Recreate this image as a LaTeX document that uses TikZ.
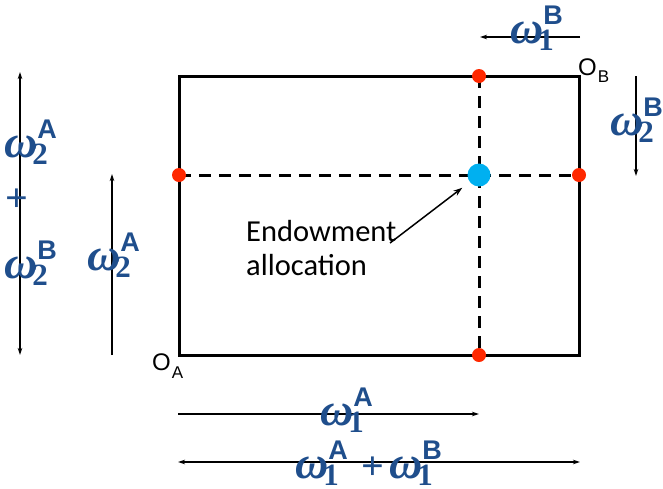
\documentclass[tikz,border=0pt]{standalone}
\usepackage{fontspec}
\usetikzlibrary{arrows.meta}
\newfontfamily\omf{Liberation Serif}
\newfontfamily\arialf{Liberation Sans}
\newfontfamily\calf{Carlito}
\definecolor{omblue}{RGB}{31,78,140}
\definecolor{dotred}{RGB}{255,40,0}
\definecolor{dotblue}{RGB}{0,176,240}
\newcommand\omsym{{\fontsize{46}{46}\selectfont\omf\bfseries\itshape ω}}
\newcommand\om[2]{\omsym\rlap{\raisebox{19pt}{\fontsize{27}{27}\selectfont\arialf\bfseries #1}}\kern-5pt\raisebox{-7pt}{\fontsize{31}{31}\selectfont\omf\bfseries #2}}
\begin{document}
\begin{tikzpicture}[x=1pt,y=-1pt,
  boxline/.style={line width=3pt},
  dashline/.style={line width=3pt,dash pattern=on 12pt off 8pt},
  reddot/.style={circle,fill=dotred,inner sep=0pt,minimum size=14pt},
  bluedot/.style={circle,fill=dotblue,inner sep=0pt,minimum size=23pt},
  arr/.style={line width=1.2pt,-{Stealth[length=7pt,width=4.5pt]}},
  darr/.style={line width=1.2pt,{Stealth[length=7pt,width=4.5pt]}-{Stealth[length=7pt,width=4.5pt]}},
  lab/.style={text=omblue,inner sep=0pt,anchor=base west},
  pluslab/.style={text=omblue,inner sep=0pt,font=\fontsize{40}{40}\selectfont\omf\bfseries},
  olab/.style={inner sep=0pt,anchor=base west,font=\fontsize{24}{24}\selectfont\arialf}
]
\useasboundingbox (0,0) rectangle (663,488);
% box
\coordinate (tl) at (179,76);
\coordinate (br) at (579,355);
\draw[boxline] (tl) rectangle (br);
% dashed lines
\coordinate (ptop) at (479,76);
\coordinate (pbot) at (479,355);
\coordinate (pleft) at (179,175);
\coordinate (pright) at (579,175);
\draw[dashline] (ptop) -- (pbot);
\draw[dashline] (pleft) -- (pright);
\node[reddot] (dtop) at (ptop) {};
\node[reddot] (dbot) at (pbot) {};
\node[reddot] (dleft) at (pleft) {};
\node[reddot] (dright) at (pright) {};
\node[bluedot] (endow) at (479,175) {};
% endowment label
\node[inner sep=0pt,anchor=base west,align=left,font=\fontsize{30.5}{34}\selectfont\calf] (etext) at (246,275) {Endowment\\allocation};
\coordinate (astart) at (390,243);
\draw[line width=1.5pt,-{Stealth[length=9pt,width=6pt]},shorten >=21pt] (astart) -- (endow.center);
% origin labels
\node[olab] (oa) at (152,370) {O\kern1pt\raisebox{-8pt}{\fontsize{17}{17}\selectfont A}};
\node[olab] (ob) at (578,75) {O\kern1pt\raisebox{-7pt}{\fontsize{17}{17}\selectfont B}};
% left arrows
\coordinate (l1t) at (20,72);
\coordinate (l1b) at (20,355);
\draw[darr] (l1b) -- (l1t);
\coordinate (l2t) at (112,174);
\coordinate (l2b) at (112,355);
\draw[arr] (l2b) -- (l2t);
\node[lab] (w2a) at (4,157) {\om{A}{2}};
\node[pluslab] (plus) at (17,200) {+};
\node[lab] (w2b) at (4,278) {\om{B}{2}};
\node[lab] (w2am) at (87,270) {\om{A}{2}};
% top arrow
\coordinate (tr1) at (580,37);
\coordinate (tl1) at (480,37);
\draw[arr] (tr1) -- (tl1);
\node[lab] (w1bt) at (510,43) {\om{B}{1}};
% right arrow
\coordinate (rt) at (636,76);
\coordinate (rb) at (636,176);
\draw[arr] (rt) -- (rb);
\node[lab] (w2br) at (610,135) {\om{B}{2}};
% bottom arrows
\coordinate (b1l) at (178,414);
\coordinate (b1r) at (479,414);
\draw[arr] (b1l) -- (b1r);
\node[lab] (w1a) at (320,425) {\om{A}{1}};
\coordinate (b2l) at (178,462);
\coordinate (b2r) at (580,462);
\draw[darr] (b2l) -- (b2r);
\node[lab] (w1sa) at (295,478) {\om{A}{1}};
\node[pluslab] (w1plus) at (373,468) {+};
\node[lab] (w1sb) at (389,478) {\om{B}{1}};
\end{tikzpicture}
\end{document}
